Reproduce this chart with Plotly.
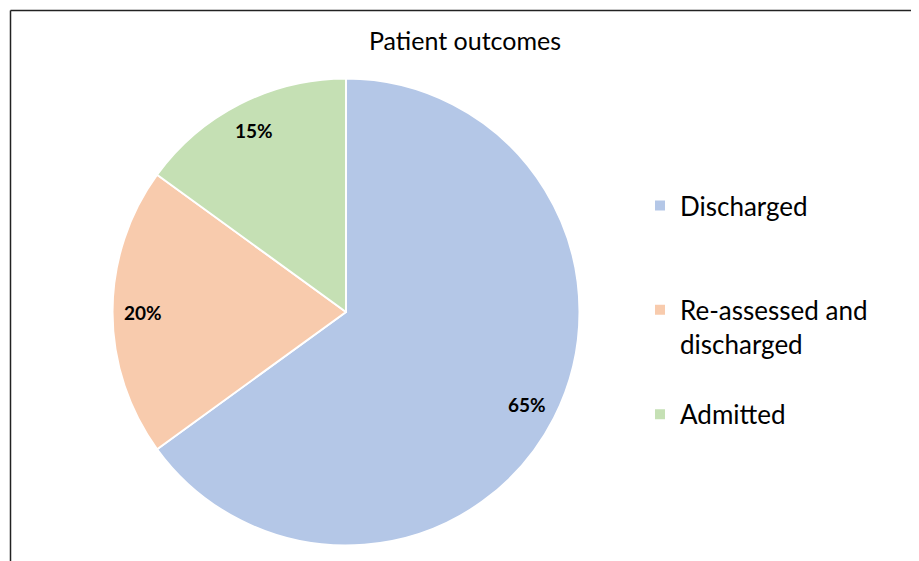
import math
import plotly.graph_objects as go

# Data
labels = ["Discharged", "Re-assessed and<br>discharged", "Admitted"]
values = [65, 20, 15]
colors = ["#B4C7E7", "#F8CBAD", "#C5E0B4"]
title = "Patient outcomes"

# page body has an 8px margin, so the figure is a bit smaller than the window
OFF = 8
W, H = 919 - OFF, 561 - OFF
FONT = "Lato, Open Sans, sans-serif"

# pie geometry in figure pixels
CX, CY, R = 346 - OFF, 312 - OFF, 233.5

# pad labels with blank lines so legend items sit ~100px apart
legend_labels = ["Discharged<br> <br> ", "Re-assessed and<br>discharged<br> ", "Admitted"]

fig = go.Figure(go.Pie(
    labels=legend_labels, values=values, sort=False, direction="clockwise", rotation=0,
    marker=dict(colors=colors, line=dict(color="white", width=2)),
    textinfo="none",
    domain=dict(x=[(CX - R)/W, (CX + R)/W], y=[1-(CY + R)/H, 1-(CY - R)/H]),
    hovertext=labels, hoverinfo="text+percent",
))

# percentage labels placed along each slice bisector, near the rim
total = sum(values)
annos = []
start = 0
for v in values:
    mid = (start + v/2) / total * 2*math.pi
    start += v
    px = CX + 0.87*R*math.sin(mid)
    py = CY - 0.87*R*math.cos(mid)
    annos.append(dict(x=px/W, y=1-py/H, xref="paper", yref="paper", showarrow=False,
                      xanchor="center", yanchor="middle",
                      text=f"<b>{round(v/total*100)}%</b>",
                      font=dict(size=19, color="black", family=FONT)))

fig.update_layout(
    width=W, height=H, paper_bgcolor="white",
    margin=dict(l=0, r=0, t=0, b=0),
    font=dict(family=FONT, color="black"),
    title=dict(text=title, x=(465-OFF)/W, xanchor="center", y=1-(41-OFF)/H, yanchor="middle",
               font=dict(size=25, color="black", family=FONT)),
    legend=dict(x=(640-OFF)/W, xanchor="left", y=1-(182-OFF)/H, yanchor="top",
                valign="top", font=dict(size=26, color="black", family=FONT),
                bgcolor="rgba(0,0,0,0)"),
    annotations=annos,
    shapes=[
        dict(type="line", xref="paper", yref="paper", x0=2.5/W, x1=1.01, y0=1-2.5/H, y1=1-2.5/H,
             line=dict(color="#222", width=1.5)),
        dict(type="line", xref="paper", yref="paper", x0=2.5/W, x1=2.5/W, y0=-0.01, y1=1-2.5/H,
             line=dict(color="#222", width=1.5)),
    ],
)

fig.write_html("out.html")
